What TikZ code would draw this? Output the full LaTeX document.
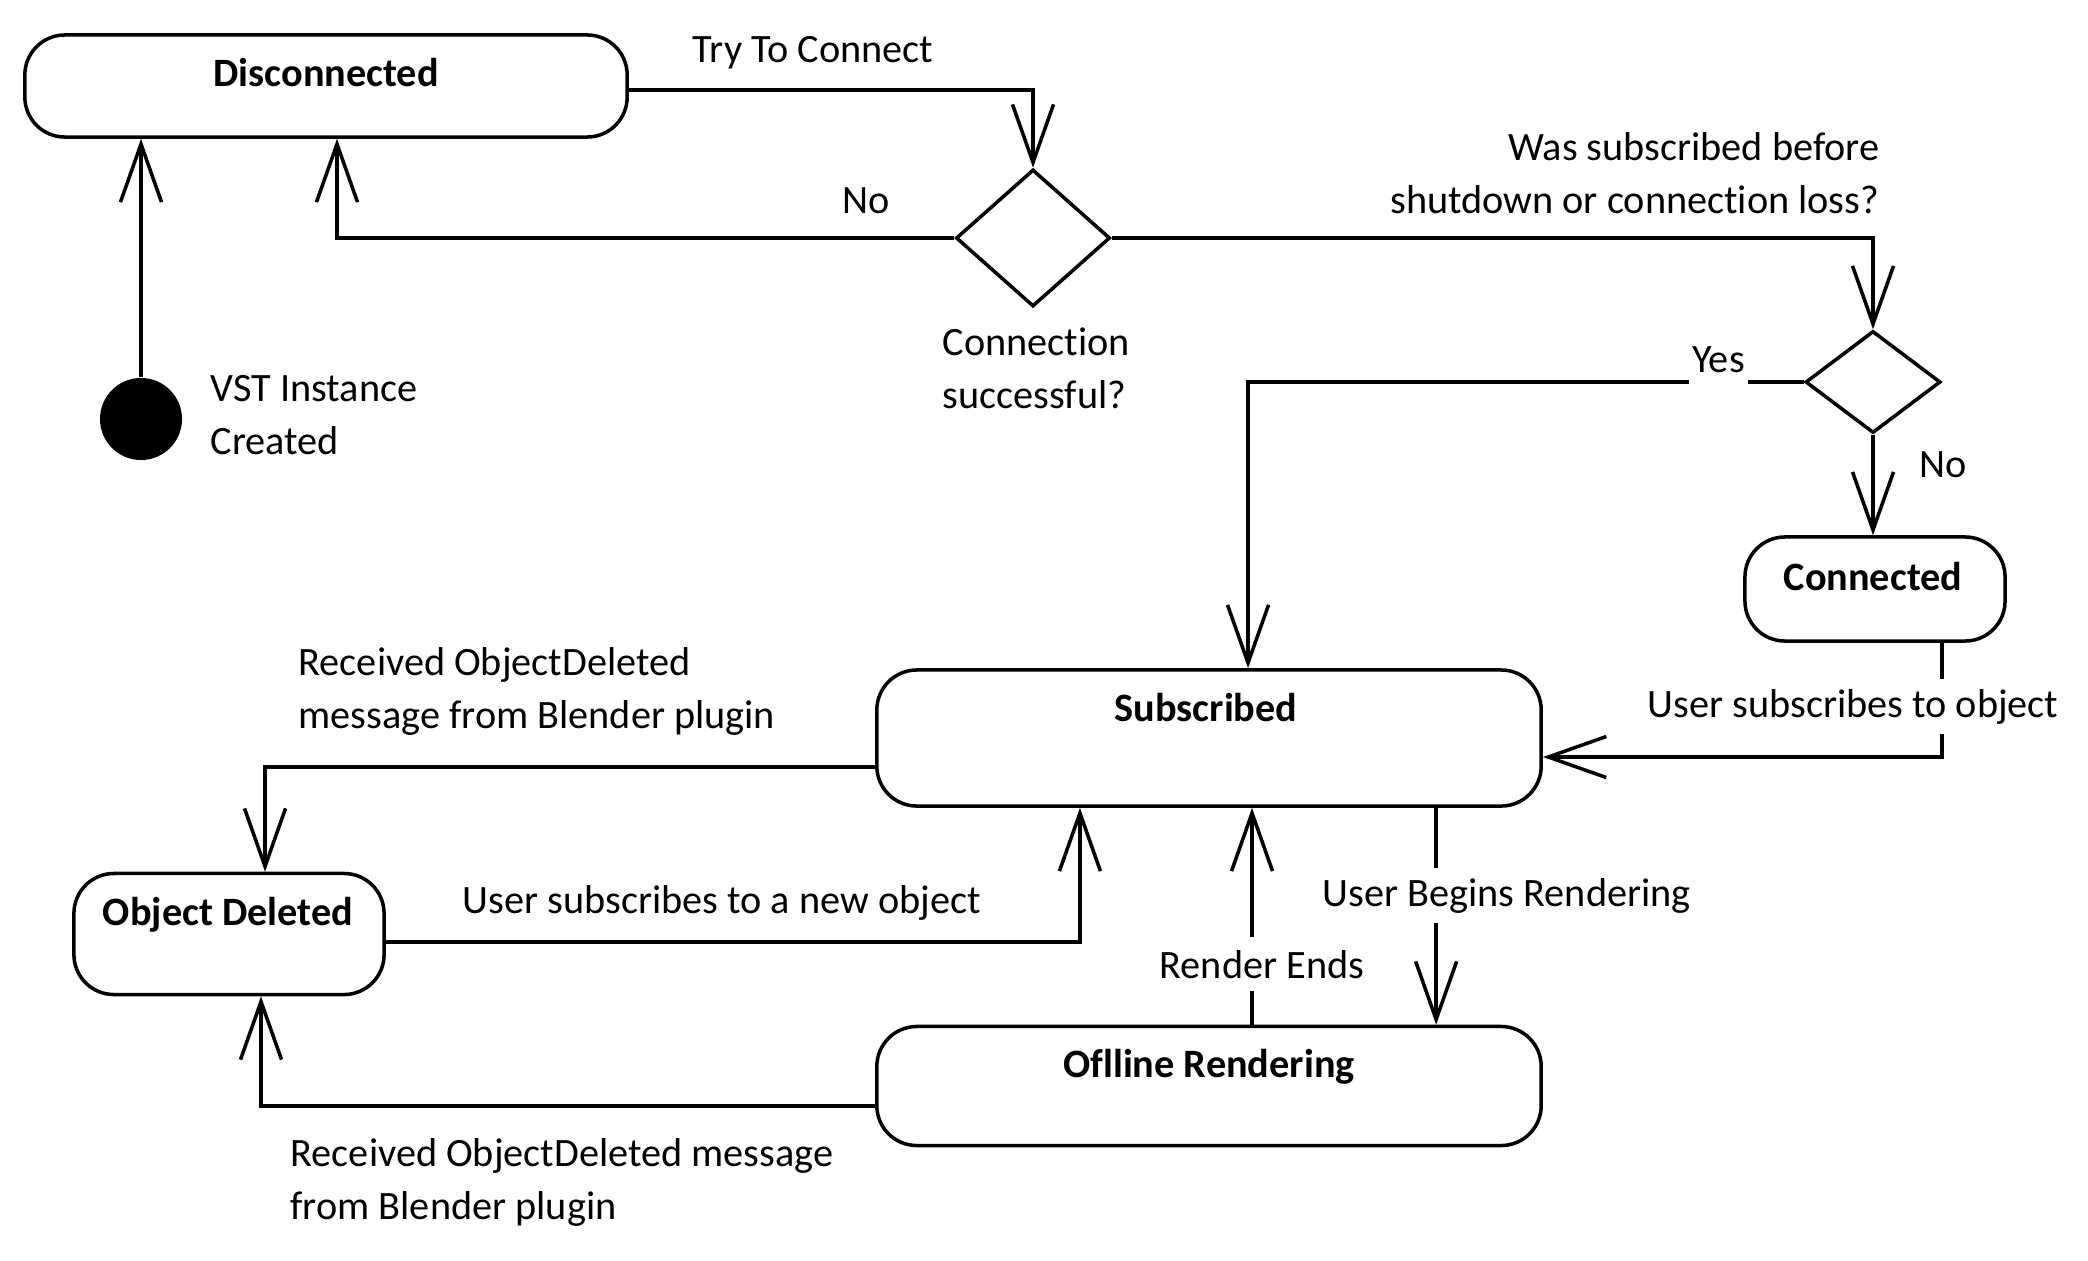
\documentclass[tikz,border=0pt]{standalone}
\usepackage{fontspec}
\setmainfont[Ligatures=NoCommon]{Carlito}
\usetikzlibrary{arrows.meta,shapes.geometric}
\begin{document}
\begin{tikzpicture}[x=0.01cm,y=-0.01cm,
  every node/.style={font=\fontsize{11.45pt}{14.8pt}\selectfont},
  state/.style={draw,rounded corners=0.4cm,line width=1pt,inner sep=0pt},
  choice/.style={draw,diamond,line width=1pt,inner sep=0pt},
  txt/.style={inner sep=0pt,anchor=base west,align=left},
  title/.style={inner sep=0pt,anchor=base,font=\fontsize{11.45pt}{14.8pt}\selectfont\bfseries},
  arr/.style={line width=1pt,-{Straight Barb[length=0.58cm,width=0.41cm]}}]
\useasboundingbox (0,0) rectangle (2088,1260);

% states
\node[state,minimum width=6.02cm,minimum height=1.02cm] (disc) at (326,86) {};
\node[circle,fill=black,minimum size=0.82cm,inner sep=0pt] (init) at (141,419) {};
\node[choice,minimum width=1.54cm,minimum height=1.37cm] (d1) at (1033,238) {};
\node[choice,minimum width=1.35cm,minimum height=1.02cm] (d2) at (1873,382) {};
\node[state,minimum width=2.6cm,minimum height=1.04cm] (conn) at (1875,589) {};
\node[state,minimum width=6.64cm,minimum height=1.36cm] (sub) at (1209,738) {};
\node[state,minimum width=3.1cm,minimum height=1.21cm] (od) at (229,934) {};
\node[state,minimum width=6.64cm,minimum height=1.19cm] (off) at (1209,1086) {};

% connectors
\draw[arr] (init.north) -- (init.north |- disc.south);
\draw[arr] ([yshift=-0.04cm]disc.east) -| (d1.north);
\draw[arr] (d1.west) -| ([xshift=0.11cm]disc.south);
\draw[arr] (d1.east) -| (d2.north);
\draw[arr] (d2.west) -| ([xshift=0.39cm]sub.north);
\draw[arr] (d2.south) -- (d2.south |- conn.north);
\draw[arr] ([xshift=0.67cm]conn.south) |- ([yshift=-0.19cm]sub.east);
\draw[arr] ([yshift=-0.29cm]sub.west) -| ([xshift=0.36cm]od.north);
\draw[arr] ([yshift=-0.08cm]od.east) -| ([xshift=-1.29cm]sub.south);
\draw[arr] ([xshift=0.43cm]off.north) -- ([xshift=0.43cm]sub.south);
\draw[arr] ([xshift=2.27cm]sub.south) -- ([xshift=2.27cm]off.north);
\draw[arr] ([yshift=-0.2cm]off.west) -| ([xshift=0.32cm]od.south);

% state titles
\node[title] (tDisc) at (326,86) {Disconnected};
\node[title] (tConn) at (1873,590) {Connected};
\node[title] (tSub) at (1206,721) {Subscribed};
\node[title] (tOD) at (228,925) {Object Deleted};
\node[title] (tOff) at (1209,1077) {Oflline Rendering};

% labels (multi-line nodes: anchor on the last line's baseline)
\node[txt] (lTry) at (692,62) {Try To Connect};
\node[txt] (lNo1) at (842,213) {No};
\node[txt] (lVST) at (210,454) {VST Instance\\Created};
\node[txt] (lCS) at (942,408) {Connection\\successful?};
\node[txt,anchor=base east,align=right] (lWas) at (1880,213) {Was subscribed before\\shutdown or connection loss?};
\node[txt,fill=white,inner ysep=5pt,inner xsep=1pt] (lYes) at (1688,372) {Yes};
\node[txt] (lNo2) at (1919,477) {No};
\node[txt,fill=white,inner ysep=0.1cm] (lUSO) at (1647,717) {User subscribes to object};
\node[txt] (lROD1) at (298,728) {Received ObjectDeleted\\message from Blender plugin};
\node[txt] (lUSN) at (462,913) {User subscribes to a new object};
\node[txt,fill=white,inner ysep=0.1cm] (lUBR) at (1322,906) {User Begins Rendering};
\node[txt,fill=white,inner ysep=0.13cm] (lRE) at (1159,978) {Render Ends};
\node[txt] (lROD2) at (290,1219) {Received ObjectDeleted message\\from Blender plugin};
\end{tikzpicture}
\end{document}
